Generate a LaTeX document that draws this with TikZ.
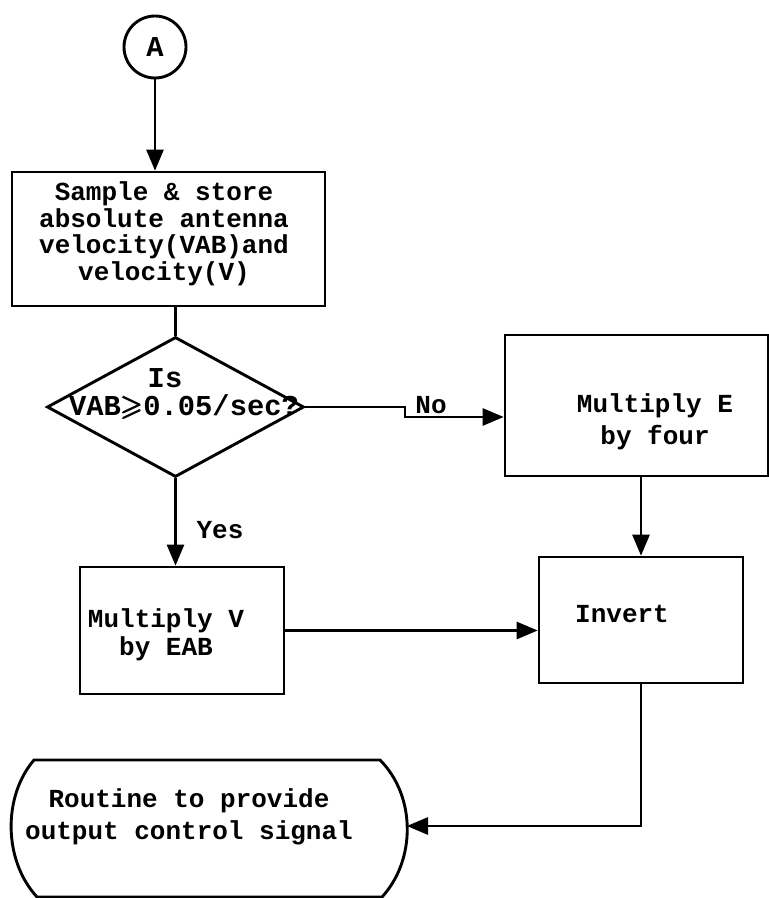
\documentclass[tikz,border=0pt]{standalone}
\usepackage{amsmath,amssymb}
\usepackage{fontspec}
\setmainfont{Liberation Mono}
\usetikzlibrary{arrows, shapes.geometric}

\begin{document}
\begin{tikzpicture}[
            x = 0.5pt, y = -0.5pt, % one unit is one pixel of the scan
            > = triangle 45, % arrow head style
            line width = 1.45pt % line style
        ]

        \tikzstyle{every node}=[
        font = \bfseries\fontsize{13}{13.25}\selectfont,
        inner sep = 0pt
        ]
        \tikzstyle{box}=[draw, rectangle]
        \tikzstyle{txt}=[align = center]
        \tikzstyle{bigtxt}=[font = \bfseries\fontsize{14.4}{15}\selectfont]

        \useasboundingbox (0,0) rectangle (769,898);

        % boxes
        \node (a) [draw, circle, minimum size=31pt, bigtxt] at (155,47) {A};
        \node (store) [box, minimum width=156.5pt, minimum height=67pt] at (168.5,239) {};
        \node (dia) [draw, diamond, minimum width=128.5pt, minimum height=70pt] at (175.5,407) {};
        \node (mulE) [box, minimum width=131.5pt, minimum height=70.5pt] at (636.5,405.5) {};
        \node (mulV) [box, minimum width=102pt, minimum height=63.5pt] at (182,630.5) {};
        \node (inv) [box, minimum width=102pt, minimum height=63pt] at (641,620) {};
        \draw (34,760) -- (380,760) .. controls (416,796) and (416,860) .. (382,897)
            -- (37,897) .. controls (3,860) and (3,796) .. (34,760) -- cycle;
        \coordinate (routE) at (407,826);

        % texts
        \node (storetxt) [txt] at (164,234) {Sample \& store\\absolute antenna\\velocity(VAB)and\\velocity(V)};
        \node (isq) [bigtxt] at (165,378) {Is};
        \node (vab) [bigtxt] at (184,407) {VAB$\pmb{\geqslant}$0.05/sec?};
        \node (no) at (431,405) {No};
        \node (yes) at (220,530) {Yes};
        \node (mulEtxt) [txt] at (655,422) {Multiply E\\[2.75pt] by four};
        \node (mulVtxt) [txt] at (166,635) {Multiply V\\[1pt]by EAB};
        \node (invtxt) at (622,614) {Invert};
        \node (routtxt) [txt] at (189,817) {Routine to provide\\[2.75pt]output control signal};

        % connectors
        \coordinate (jog) at (405,417);
        \draw[->] (a) -- (a |- store.north);
        \draw (dia.north |- store.south) -- (dia.north);
        \draw[->] (dia.east) -| (jog) -- (jog -| mulE.west);
        \draw[->] (dia.south) -- (dia.south |- mulV.north);
        \draw[->] (inv.north |- mulE.south) -- (inv.north);
        \draw[->] (mulV.east) -- (mulV.east -| inv.west);
        \draw[->] (inv.south) |- (routE);
    \end{tikzpicture}
\end{document}
